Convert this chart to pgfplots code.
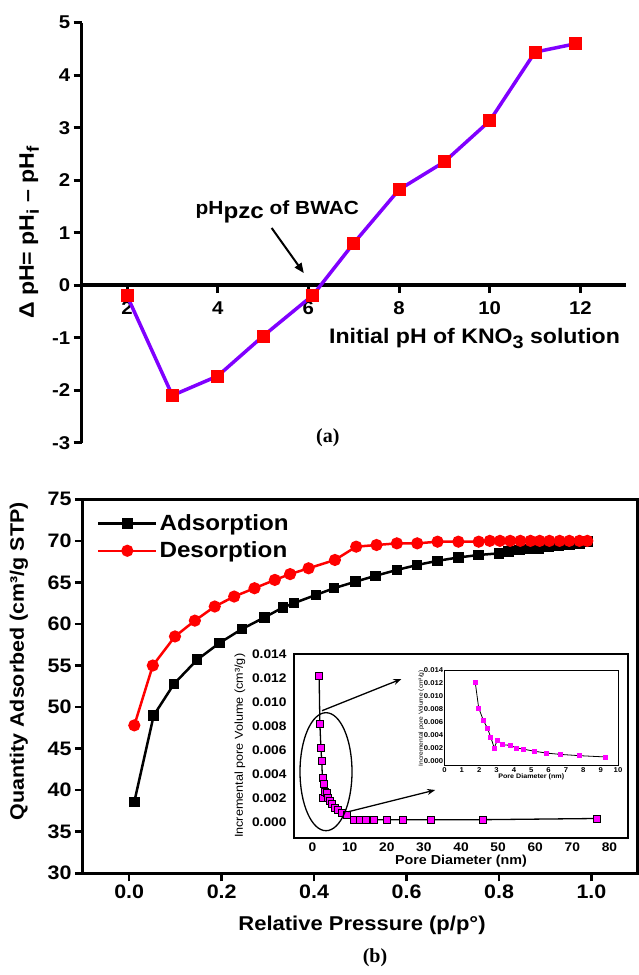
\documentclass[border=0pt]{standalone}
\usepackage{fontspec}
\setmainfont{Liberation Sans}[FakeStretch=1.1]
\newfontfamily\serifface{Liberation Serif}
\usepackage{pgfplots}
\pgfplotsset{compat=1.18}
\usetikzlibrary{arrows.meta}

\definecolor{violetline}{RGB}{128,0,255}
\definecolor{magentam}{RGB}{255,0,255}
\newcommand{\fs}[1]{\fontsize{#1}{#1}\selectfont}
\newcommand{\sub}[2]{\raisebox{-0.45ex}{\fontsize{#1}{#1}\selectfont #2}}

\begin{document}
\begin{tikzpicture}
\path[use as bounding box] (0pt,0pt) rectangle (639pt,975pt);

% ---------------- (a) point of zero charge ----------------
\begin{axis}[
  at={(81.7pt,532.3pt)}, anchor=south west,
  scale only axis, width=544pt, height=420pt,
  xmin=1, xmax=13, ymin=-3, ymax=5, enlargelimits=false,
  axis x line=middle, axis y line=left,
  axis line style={line width=3.5pt,-},
  hide obscured x ticks=false, hide obscured y ticks=false,
  xtick={2,4,6,8,10,12}, ytick={-3,-2,...,5},
  tick align=outside, major tick length=8pt,
  tick style={line width=3pt, black},
  tick label style={font=\fs{18.5}\bfseries},
  xticklabel style={yshift=-5pt},
  /pgf/number format/assume math mode=true,
  clip=false,
]
\addplot[violetline, line width=3.5pt, mark=square*, mark size=6pt,
  mark options={fill=red, draw=red, line width=0pt}] coordinates {
  (2,-0.20) (3,-2.10) (4,-1.73) (5,-0.97) (6.1,-0.19) (7,0.80)
  (8,1.82) (9,2.35) (10,3.13) (11,4.44) (11.9,4.60)
};
\node[rotate=90, font=\fs{21}\bfseries] at (axis cs:-0.16,1.0)
  {Δ pH= pH\sub{17}{i} – pH\sub{17}{f}};
\node[anchor=east, font=\fs{21}\bfseries] at (axis cs:12.95,-1.01)
  {Initial pH of KNO\sub{18}{3} solution};
\node[anchor=base west, inner sep=0pt, font=\fs{19}\bfseries] at (axis cs:3.51,1.347)
  {pH\sub{22}{pzc} of BWAC};
\draw[line width=2pt, -{Triangle[length=10pt,width=8pt]}]
  (axis cs:5.19,1.09) -- (axis cs:5.9,0.23);
\node[font=\serifface\fs{20}\bfseries] at (axis cs:6.43,-2.91) {(a)};
\end{axis}

% ---------------- (b) N2 isotherm ----------------
\begin{axis}[
  at={(83pt,101.7pt)}, anchor=south west,
  scale only axis, width=554.7pt, height=374pt,
  xmin=-0.1, xmax=1.1, ymin=30, ymax=75,
  axis line style={line width=3pt},
  xtick={0,0.2,0.4,0.6,0.8,1.0}, xticklabels={0.0,0.2,0.4,0.6,0.8,1.0},
  ytick={30,35,...,75},
  xtick pos=lower, ytick pos=left, tick align=outside,
  major tick length=8pt, tick style={line width=2.5pt, black},
  tick label style={font=\fs{19.5}\bfseries},
  /pgf/number format/assume math mode=true,
  legend style={draw=none, fill=none, at={(rel axis cs:0.025,0.965)}, anchor=north west,
    font=\fs{22}\bfseries, row sep=6pt, inner sep=0pt},
  legend cell align=left,
  legend image code/.code={\draw[mark repeat=2,mark phase=2,#1]
    plot coordinates {(0pt,0pt) (29pt,0pt) (58pt,0pt)};},
  clip=false,
]
\addplot[black, line width=2.5pt, mark=square*, mark size=4pt] coordinates {
  (0.011,38.6) (0.053,49.0) (0.097,52.8) (0.147,55.7) (0.195,57.7)
  (0.244,59.4) (0.293,60.8) (0.333,62.0) (0.356,62.5) (0.404,63.5)
  (0.443,64.3) (0.490,65.1) (0.533,65.8) (0.579,66.5) (0.623,67.1)
  (0.667,67.6) (0.712,68.0) (0.756,68.3) (0.800,68.5) (0.821,68.7)
  (0.844,68.9) (0.865,69.0) (0.887,69.1) (0.907,69.3) (0.930,69.4)
  (0.952,69.5) (0.974,69.7) (0.991,69.9)
};
\addlegendentry{Adsorption}
\addplot[red, line width=2.5pt, mark=*, mark size=4.8pt] coordinates {
  (0.011,47.8) (0.051,55.0) (0.099,58.5) (0.142,60.4) (0.185,62.1)
  (0.227,63.3) (0.271,64.3) (0.315,65.3) (0.348,66.0) (0.388,66.7)
  (0.445,67.7) (0.491,69.3) (0.535,69.5) (0.579,69.7) (0.623,69.7)
  (0.667,69.9) (0.712,69.9) (0.756,69.9) (0.780,70.0) (0.802,70.0)
  (0.824,70.0) (0.846,70.0) (0.868,70.0) (0.888,70.0) (0.909,70.0)
  (0.931,70.0) (0.952,70.0) (0.974,70.0) (0.991,70.0)
};
\addlegendentry{Desorption}
\node[rotate=90, font=\fs{19.5}\bfseries] at (axis cs:-0.2385,55.5)
  {Quantity Adsorbed (cm³/g STP)};
\node[font=\fs{20}\bfseries] at (axis cs:0.5036,23.78) {Relative Pressure (p/p°)};
\node[font=\serifface\fs{20}\bfseries] at (axis cs:0.5317,19.81) {(b)};
\end{axis}

% ---------------- pore size distribution ----------------
\begin{axis}[
  at={(294pt,137.3pt)}, anchor=south west,
  scale only axis, width=334pt, height=183.7pt,
  xmin=-5, xmax=85, ymin=-0.0013, ymax=0.014,
  axis background/.style={fill=white},
  axis line style={line width=2pt},
  xtick={0,10,...,80},
  ytick={0,0.002,0.004,0.006,0.008,0.010,0.012,0.014},
  scaled y ticks=false,
  yticklabel style={/pgf/number format/fixed, /pgf/number format/fixed zerofill,
    /pgf/number format/precision=3, xshift=-4pt},
  xticklabel style={yshift=-2pt},
  major tick length=0pt,
  tick label style={font=\fs{12.5}\bfseries},
  /pgf/number format/assume math mode=true,
  xlabel={Pore Diameter (nm)}, xlabel style={font=\fs{13}\bfseries, yshift=4pt},
  ylabel={Incremental pore Volume (cm³/g)}, ylabel style={font=\fs{11.5}},
  clip=false,
]
\addplot[black, line width=1.3pt, mark=square*, mark size=3.5pt,
  mark options={fill=magentam, draw=black, line width=0.6pt}] coordinates {
  (1.77,0.0122) (1.97,0.0082) (2.25,0.0062) (2.47,0.0051) (2.66,0.0037)
  (2.87,0.0020) (3.04,0.0032) (3.35,0.0025) (3.78,0.0024) (4.16,0.0020)
  (4.57,0.0018) (5.16,0.0015) (5.88,0.0012) (6.67,0.0010) (7.78,0.0008)
  (9.29,0.0006) (11.2,0.0002) (12.8,0.0002) (14.4,0.0002) (16.4,0.0002)
  (19.9,0.0002) (24.4,0.0002) (31.9,0.0002) (46,0.0002) (76.7,0.0003)
};
\end{axis}

% ---------------- enlarged view below 10 nm ----------------
\begin{axis}[
  at={(444.5pt,209pt)}, anchor=south west,
  scale only axis, width=173.5pt, height=95.5pt,
  xmin=0, xmax=10, ymin=-0.0008, ymax=0.014,
  axis background/.style={fill=white},
  axis line style={line width=1pt},
  xtick={0,1,...,10},
  ytick={0,0.002,0.004,0.006,0.008,0.010,0.012,0.014},
  scaled y ticks=false,
  yticklabel style={/pgf/number format/fixed, /pgf/number format/fixed zerofill,
    /pgf/number format/precision=3},
  major tick length=0pt,
  tick label style={font=\fs{7}\bfseries, inner sep=1.2pt},
  /pgf/number format/assume math mode=true,
  xlabel={Pore Diameter (nm)}, xlabel style={font=\fs{6.5}\bfseries, yshift=3pt},
  ylabel={Incremental pore Volume (cm³/g)}, ylabel style={font=\fs{6}, yshift=-5pt},
  clip=false,
]
\addplot[black, line width=0.8pt, mark=square*, mark size=2pt,
  mark options={fill=magentam, draw=magentam}] coordinates {
  (1.77,0.0122) (1.97,0.0082) (2.25,0.0062) (2.47,0.0051) (2.66,0.0037)
  (2.87,0.0020) (3.04,0.0032) (3.35,0.0025) (3.78,0.0024) (4.16,0.0020)
  (4.57,0.0018) (5.16,0.0015) (5.88,0.0012) (6.67,0.0010) (7.78,0.0008)
  (9.29,0.0006)
};
\end{axis}

% zoom indicators
\draw[line width=1.3pt] (326pt,203.3pt) ellipse [x radius=26pt, y radius=59pt];
\draw[line width=1.3pt, -{Stealth[length=8pt,width=6pt]}] (322pt,264.3pt) -- (401.4pt,296pt);
\draw[line width=1.3pt, -{Stealth[length=8pt,width=6pt]}] (348.4pt,163.3pt) -- (435.2pt,185pt);
\end{tikzpicture}
\end{document}
